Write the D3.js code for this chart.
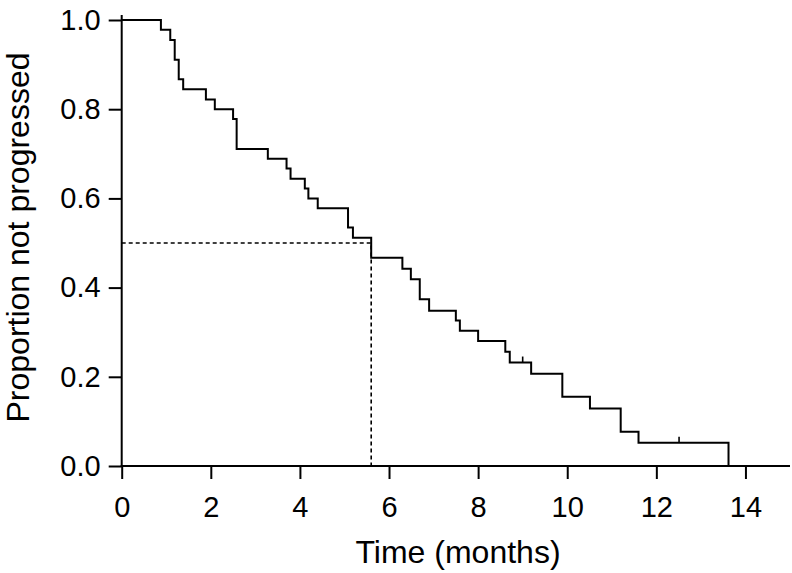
<!DOCTYPE html>
<html>
<head>
<meta charset="utf-8">
<script src="https://cdn.jsdelivr.net/npm/d3@7"></script>
<style>
  html, body { margin: 0; padding: 0; background: #fff; }
  svg { display: block; }
  text { font-family: "Liberation Sans", Arial, Helvetica, sans-serif; fill: #000; }
</style>
</head>
<body>
<svg id="chart" width="792" height="573"></svg>
<script>
// Kaplan-Meier step data: event times (months) and survival proportion after each step
const stepTimes = [0.88, 1.09, 1.19, 1.28, 1.38, 1.89, 2.09, 2.50, 2.58, 3.28, 3.70, 3.79, 4.11, 4.19, 4.40, 5.08, 5.19, 5.60, 6.30, 6.49, 6.69, 6.90, 7.50, 7.59, 8.00, 8.61, 8.71, 9.19, 9.89, 10.51, 11.20, 11.60, 13.62];
const stepSurvival = [0.978, 0.955, 0.911, 0.867, 0.845, 0.822, 0.800, 0.778, 0.711, 0.689, 0.667, 0.644, 0.622, 0.600, 0.578, 0.535, 0.512, 0.467, 0.442, 0.419, 0.374, 0.348, 0.326, 0.303, 0.280, 0.256, 0.232, 0.207, 0.155, 0.129, 0.077, 0.052, 0.0];
// censored observations
const censorTimes = [9.00, 12.51];
const censorSurvival = [0.232, 0.052];
// median survival
const medianTime = 5.60;
const medianLevel = 0.5;
// ticks
const xTicks = [0, 2, 4, 6, 8, 10, 12, 14];
const yTicks = [0.0, 0.2, 0.4, 0.6, 0.8, 1.0];
const xTitle = "Time (months)";
const yTitle = "Proportion not progressed";

const svg = d3.select("#chart");
const x = d3.scaleLinear().domain([0, 15]).range([121.7, 790]);
const y = d3.scaleLinear().domain([0, 1]).range([466, 20]);

// Y axis
const yAxis = svg.append("g").attr("transform", `translate(${x(0)},0)`)
  .call(d3.axisLeft(y).tickValues(yTicks).tickFormat(d3.format(".1f")).tickSize(13).tickPadding(8).tickSizeOuter(0));
yAxis.select(".domain").remove();
yAxis.selectAll("line").attr("stroke", "#000").attr("stroke-width", 2);
yAxis.selectAll("text").attr("font-size", 29).attr("font-family", '"Liberation Sans", Arial, sans-serif');
svg.append("line").attr("x1", x(0)).attr("x2", x(0)).attr("y1", y(1.011)).attr("y2", y(0))
  .attr("stroke", "#000").attr("stroke-width", 2);

// X axis
const xAxis = svg.append("g").attr("transform", `translate(0,${y(0)})`)
  .call(d3.axisBottom(x).tickValues(xTicks).tickFormat(d3.format("d")).tickSize(13).tickPadding(17).tickSizeOuter(0));
xAxis.select(".domain").remove();
xAxis.selectAll("line").attr("stroke", "#000").attr("stroke-width", 2);
xAxis.selectAll("text").attr("font-size", 29).attr("font-family", '"Liberation Sans", Arial, sans-serif');
svg.append("line").attr("x1", x(0) - 1).attr("x2", x(15)).attr("y1", y(0)).attr("y2", y(0))
  .attr("stroke", "#000").attr("stroke-width", 2);

// Median dashed lines
svg.append("path")
  .attr("d", d3.line()([[x(0), y(medianLevel)], [x(medianTime), y(medianLevel)], [x(medianTime), y(0)]]))
  .attr("fill", "none").attr("stroke", "#000").attr("stroke-width", 1.6).attr("stroke-dasharray", "4,3");

// KM curve
const pts = [[0, 1]];
stepTimes.forEach((t, i) => pts.push([t, stepSurvival[i]]));
const line = d3.line().x(d => x(d[0])).y(d => y(d[1])).curve(d3.curveStepAfter);
svg.append("path").datum(pts).attr("d", line)
  .attr("fill", "none").attr("stroke", "#000").attr("stroke-width", 2).attr("stroke-linejoin", "miter");

// censor marks
svg.selectAll(".censor").data(censorTimes).enter().append("line")
  .attr("x1", d => x(d)).attr("x2", d => x(d))
  .attr("y1", (d, i) => y(censorSurvival[i])).attr("y2", (d, i) => y(censorSurvival[i]) - 6)
  .attr("stroke", "#000").attr("stroke-width", 1.6);

// Titles
svg.append("text").attr("x", 458).attr("y", 563).attr("text-anchor", "middle")
  .attr("font-size", 32).text(xTitle);
svg.append("text").attr("transform", `translate(29,237.5) rotate(-90)`)
  .attr("text-anchor", "middle").attr("font-size", 32).text(yTitle);
</script>
</body>
</html>
